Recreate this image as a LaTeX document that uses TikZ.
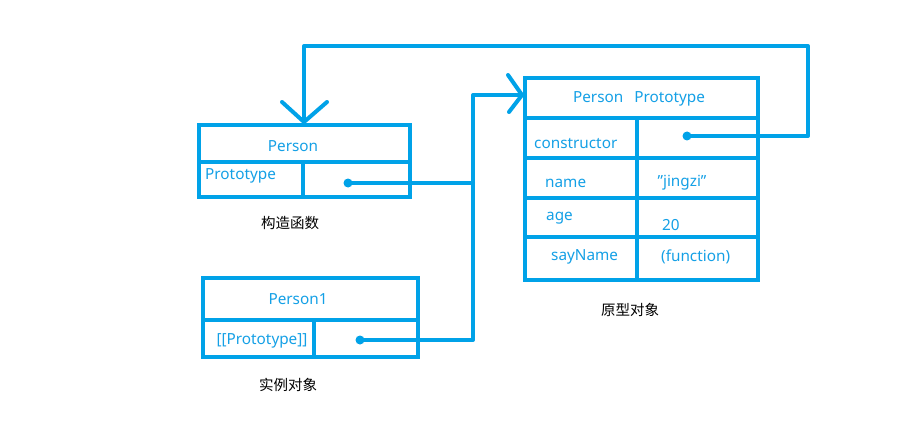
\documentclass[tikz,border=0pt]{standalone}
\usepackage{fontspec}
\setmainfont{Noto Sans}
\newfontfamily\cjk{Noto Sans CJK SC}
\definecolor{pblue}{RGB}{0,162,232}
\definecolor{tblue}{RGB}{20,160,230}
\begin{document}
\begin{tikzpicture}[x=1pt,y=-1pt,
  box/.style={draw=pblue, line width=4pt, rectangle, inner sep=0pt, outer sep=0pt},
  divider/.style={draw=pblue, line width=4pt},
  txt/.style={text=tblue, font=\fontsize{15.3}{17}\selectfont, inner sep=0pt},
  cnlabel/.style={text=black, font=\cjk\fontsize{14.5}{16}\selectfont, inner sep=0pt},
  wire/.style={draw=pblue, line width=4pt, line cap=round, line join=round},
  dotmark/.style={fill=pblue, draw=none}]
\useasboundingbox[fill=white] (0,0) rectangle (901,422);

% ---- Person (constructor) box
\node[box, minimum width=211pt, minimum height=72pt] (person) at (304.5,161) {};
\draw[divider] (201,162) -- (410,162);
\draw[divider] (303,162) -- (303,197);
\node[txt] (personT) at (293,146) {Person};
\node[txt, anchor=west] (personP) at (205,176) {Prototype};
\node[cnlabel] (personC) at (290,223) {构造函数};
\coordinate (dotP) at (348,183);

% ---- Person1 (instance) box
\node[box, minimum width=215pt, minimum height=79pt] (inst) at (310.5,317.5) {};
\draw[divider] (203,320) -- (418,320);
\draw[divider] (314,320) -- (314,359);
\node[txt] (instT) at (298,299) {Person1};
\node[txt] (instP) at (262,341) {[[Prototype]]};
\node[cnlabel] (instC) at (288,385) {实例对象};
\coordinate (dotI) at (360,340);

% ---- Person Prototype box
\node[box, minimum width=233pt, minimum height=202pt] (proto) at (641.5,179) {};
\draw[divider] (525,118) -- (758,118);
\draw[divider] (525,158) -- (758,158);
\draw[divider] (525,198) -- (758,198);
\draw[divider] (525,237) -- (758,237);
\draw[divider] (637,118) -- (637,280);
\node[txt] (protoT) at (639,99) {Person\hspace{11pt}Prototype};
\node[txt, anchor=west] (kCons) at (534,144) {constructor};
\node[txt, anchor=west] (kName) at (545,183) {name};
\node[txt] (vName) at (682,183) {\symbol{34}jingzi\symbol{34}};
\node[txt, anchor=west] (kAge) at (546,218) {age};
\node[txt, anchor=west] (vAge) at (662,225) {20};
\node[txt, anchor=west] (kSay) at (551,257) {sayName};
\node[txt, anchor=west] (vSay) at (661,257) {(function)};
\node[cnlabel] (protoC) at (630,310) {原型对象};
\coordinate (dotC) at (687,136);

% ---- connector coordinates
\coordinate (trunkTop) at (473,95);
\coordinate (trunkBot) at (473,340);
\coordinate (protoTip) at (522,95);
\coordinate (loopR) at (808,46);
\coordinate (loopL) at (304,46);
\coordinate (personTip) at (304,122);

% dots
\fill[dotmark] (dotP) circle (4.5pt);
\fill[dotmark] (dotI) circle (4.5pt);
\fill[dotmark] (dotC) circle (4.5pt);

% prototype links
\draw[wire] (dotP) -- (dotP -| trunkTop);
\draw[wire] (dotI) -- (trunkBot) -- (trunkTop) -- (protoTip);
\draw[wire] ([xshift=-14pt,yshift=20pt]protoTip) -- (protoTip) -- ([xshift=-13pt,yshift=-17pt]protoTip);

% constructor link
\draw[wire] (dotC) -- (dotC -| loopR) -- (loopR) -- (loopL) -- (personTip);
\draw[wire] ([xshift=-22pt,yshift=20pt]personTip) -- (personTip) -- ([xshift=23pt,yshift=20pt]personTip);
\end{tikzpicture}
\end{document}
